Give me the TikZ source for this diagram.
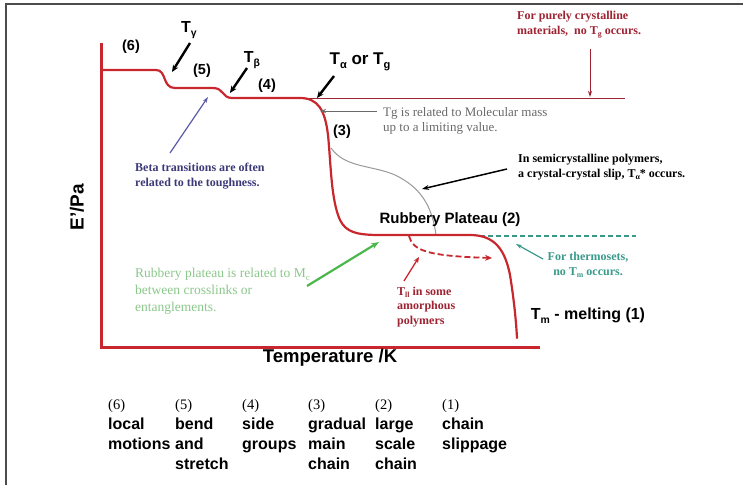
\documentclass[tikz,border=0pt]{standalone}
\usepackage{fontspec}
\setmainfont{Liberation Serif}
\setsansfont{Liberation Sans}
\usepackage{graphicx}
\usetikzlibrary{arrows.meta}
\definecolor{cred}{HTML}{C8282D}
\definecolor{dred}{HTML}{9E2332}
\definecolor{teal2}{HTML}{3A9A8A}
\definecolor{lgreen}{HTML}{8CC88C}
\definecolor{agreen}{HTML}{4CB84C}
\definecolor{purp}{HTML}{3D3A78}
\definecolor{apurp}{HTML}{5A5AAA}
\definecolor{gtext}{HTML}{6A6A6A}
\definecolor{gline}{HTML}{9A9A9A}
\newcommand{\dn}[1]{\raisebox{-0.45ex}{\scalebox{0.65}{#1}}}
\begin{document}
\begin{tikzpicture}[x=1pt,y=-1pt,
  frame/.style={draw=black!70,line width=1.2pt},
  axisline/.style={draw=cred,line width=3pt},
  curveline/.style={draw=cred,line width=2.2pt,line cap=round},
  blabel/.style={font=\sffamily\bfseries\fontsize{14.5}{16}\selectfont,inner sep=0pt},
  tlabel/.style={font=\sffamily\bfseries\fontsize{16}{18}\selectfont,inner sep=0pt},
  bigl/.style={font=\sffamily\bfseries\fontsize{15}{17}\selectfont,inner sep=0pt},
  note/.style={font=\rmfamily\bfseries\fontsize{12}{14.5}\selectfont,inner sep=0pt,align=left},
  rnote/.style={font=\rmfamily\fontsize{13.5}{17}\selectfont,inner sep=0pt,align=left},
  blk/.style={-{Stealth[length=7pt,width=6pt]},line width=2.4pt,black},
  numl/.style={font=\rmfamily\fontsize{14.5}{16}\selectfont,inner sep=0pt,anchor=base west},
  wordl/.style={font=\sffamily\bfseries\fontsize{16}{20}\selectfont,inner sep=0pt,anchor=base west}
]
\useasboundingbox (0,0) rectangle (743,485);
\fill[white] (0,0) rectangle (743,485);
\draw[frame] (6,485) -- (6,4) -- (743,4);

% axes
\coordinate (ytop) at (101,43);
\coordinate (orig) at (101,347);
\coordinate (xend) at (540,347);
\draw[axisline] (ytop) -- (orig) -- (xend);

% thin continuations
\coordinate (cs) at (300,98);
\coordinate (ce) at (625,98);
\draw[dred,line width=0.7pt] (cs) -- (ce);
\coordinate (ts) at (480,236);
\coordinate (te) at (636,236);
\draw[teal2,line width=1.2pt,dash pattern=on 5pt off 3pt] (ts) -- (te);

% semicrystalline gray line
\coordinate (g1) at (331,148);
\coordinate (g2) at (436,235);
\draw[gline,line width=1pt] (g1) .. controls (345,168) and (372,165) .. (395,175) .. controls (420,187) and (432,205) .. (g2);

% main curve
\coordinate (c0) at (103,70);
\draw[curveline] (c0) -- (156,70) .. controls (167,70) and (162,88) .. (175,88)
  -- (213,88) .. controls (224,88) and (222,98) .. (232,98)
  -- (300,98) .. controls (318,98) and (325,110) .. (328,135)
  .. controls (331,165) and (331,200) .. (340,220)
  .. controls (346,232) and (356,235) .. (380,235)
  -- (470,235) .. controls (495,235) and (505,250) .. (510,275)
  .. controls (514,300) and (516,320) .. (517,338);

% Tll dashed arrow
\coordinate (d1) at (409,236);
\coordinate (d2) at (492,258);
\draw[cred,line width=1.8pt,dash pattern=on 6pt off 3pt,-{Stealth[length=7pt,width=6pt]}] (d1) .. controls (413,250) and (425,256) .. (d2);

% curve labels
\node[blabel] (l6) at (131,47) {(6)};
\node[blabel] (l5) at (202,71) {(5)};
\node[blabel] (l4) at (267,86) {(4)};
\node[blabel] (l3) at (342,132) {(3)};
\node[tlabel] (tgam) at (189,30) {T\dn{γ}};
\node[tlabel] (tbet) at (252,60) {T\dn{β}};
\node[tlabel,font=\sffamily\bfseries\fontsize{17}{19}\selectfont] (talp) at (360,62) {T\dn{α} or T\dn{g}};
\coordinate (pg) at (172,72);
\coordinate (pb) at (230,93);
\coordinate (pa) at (317,98);
\draw[blk] (190,43) -- (pg);
\draw[blk] (247,68) -- (pb);
\draw[blk] (334,76) -- (pa);

% purely crystalline
\node[note,dred,anchor=west] (pc) at (517,25) {For purely crystalline\\ materials,\ \ no T\dn{g} occurs.};
\coordinate (pch) at (590,97);
\draw[dred,line width=1pt,-{Stealth[length=6pt,width=4pt]}] (590,49) -- (pch);

% Tg molecular mass
\node[note,font=\rmfamily\fontsize{13}{15}\selectfont,gtext,anchor=west] (mm) at (383,121) {Tg is related to Molecular mass\\up to a limiting value.};
\coordinate (mmh) at (320,111);
\draw[gtext,line width=0.9pt,-{Stealth[length=6pt,width=4pt]}] (377,111) -- (mmh);

% Beta transitions
\node[note,purp,anchor=west] (beta) at (135,176) {Beta transitions are often\\related to the toughness.};
\coordinate (bh) at (208,97);
\draw[apurp,line width=1.2pt,-{Stealth[length=6pt,width=4pt]}] (170,153) -- (bh);

% semicrystalline
\node[note,black,anchor=west] (semi) at (518,167) {In semicrystalline polymers,\\a crystal-crystal slip, T\dn{α}* occurs.};
\coordinate (sh) at (422,189);
\draw[black,line width=1.5pt,-{Stealth[length=7pt,width=5pt]}] (507,169) -- (sh);

% rubbery plateau
\node[bigl] (rp) at (450,220) {Rubbery Plateau (2)};

% thermosets
\node[note,teal2,align=center] (ts1) at (588,265) {For thermosets,\\no T\dn{m} occurs.};
\coordinate (tah) at (516,244);
\draw[teal2,line width=1.2pt,-{Stealth[length=6pt,width=4pt]}] (543,259) -- (tah);

% green note
\node[rnote,lgreen,anchor=west] (gr) at (135,291) {Rubbery plateau is related to M\dn{c}\\between crosslinks or\\entanglements.};
\coordinate (grh) at (379,242);
\draw[agreen,line width=2.2pt,-{Stealth[length=8pt,width=6pt]}] (307,286) -- (grh);

% Tll note
\node[note,dred,anchor=west] (tll) at (397,307) {T\dn{ll} in some\\amorphous\\polymers};
\coordinate (tlh) at (419,257);
\draw[cred,line width=1.3pt,-{Stealth[length=6pt,width=5pt]}] (404,281) -- (tlh);

% melting
\node[bigl,font=\sffamily\bfseries\fontsize{16}{18}\selectfont] (tm) at (588,316) {T\dn{m} - melting (1)};

% axis labels
\node[bigl,font=\sffamily\bfseries\fontsize{18.5}{20}\selectfont] (xl) at (330,358) {Temperature /K};
\node[font=\sffamily\bfseries\fontsize{19}{21}\selectfont,rotate=90,inner sep=0pt] (yl) at (77,207) {E'/Pa};

% bottom table
\node[numl] (n6) at (108,409) {(6)};
\node[numl] (n5) at (175,409) {(5)};
\node[numl] (n4) at (242,409) {(4)};
\node[numl] (n3) at (308,409) {(3)};
\node[numl] (n2) at (375,409) {(2)};
\node[numl] (n1) at (442,409) {(1)};
\node[wordl] (a6) at (108,429) {local};
\node[wordl] (b6) at (108,449) {motions};
\node[wordl] (a5) at (175,429) {bend};
\node[wordl] (b5) at (175,449) {and};
\node[wordl] (c5) at (175,469) {stretch};
\node[wordl] (a4) at (242,429) {side};
\node[wordl] (b4) at (242,449) {groups};
\node[wordl] (a3) at (308,429) {gradual};
\node[wordl] (b3) at (308,449) {main};
\node[wordl] (c3) at (308,469) {chain};
\node[wordl] (a2) at (375,429) {large};
\node[wordl] (b2) at (375,449) {scale};
\node[wordl] (c2) at (375,469) {chain};
\node[wordl] (a1) at (442,429) {chain};
\node[wordl] (b1) at (442,449) {slippage};
\end{tikzpicture}
\end{document}
